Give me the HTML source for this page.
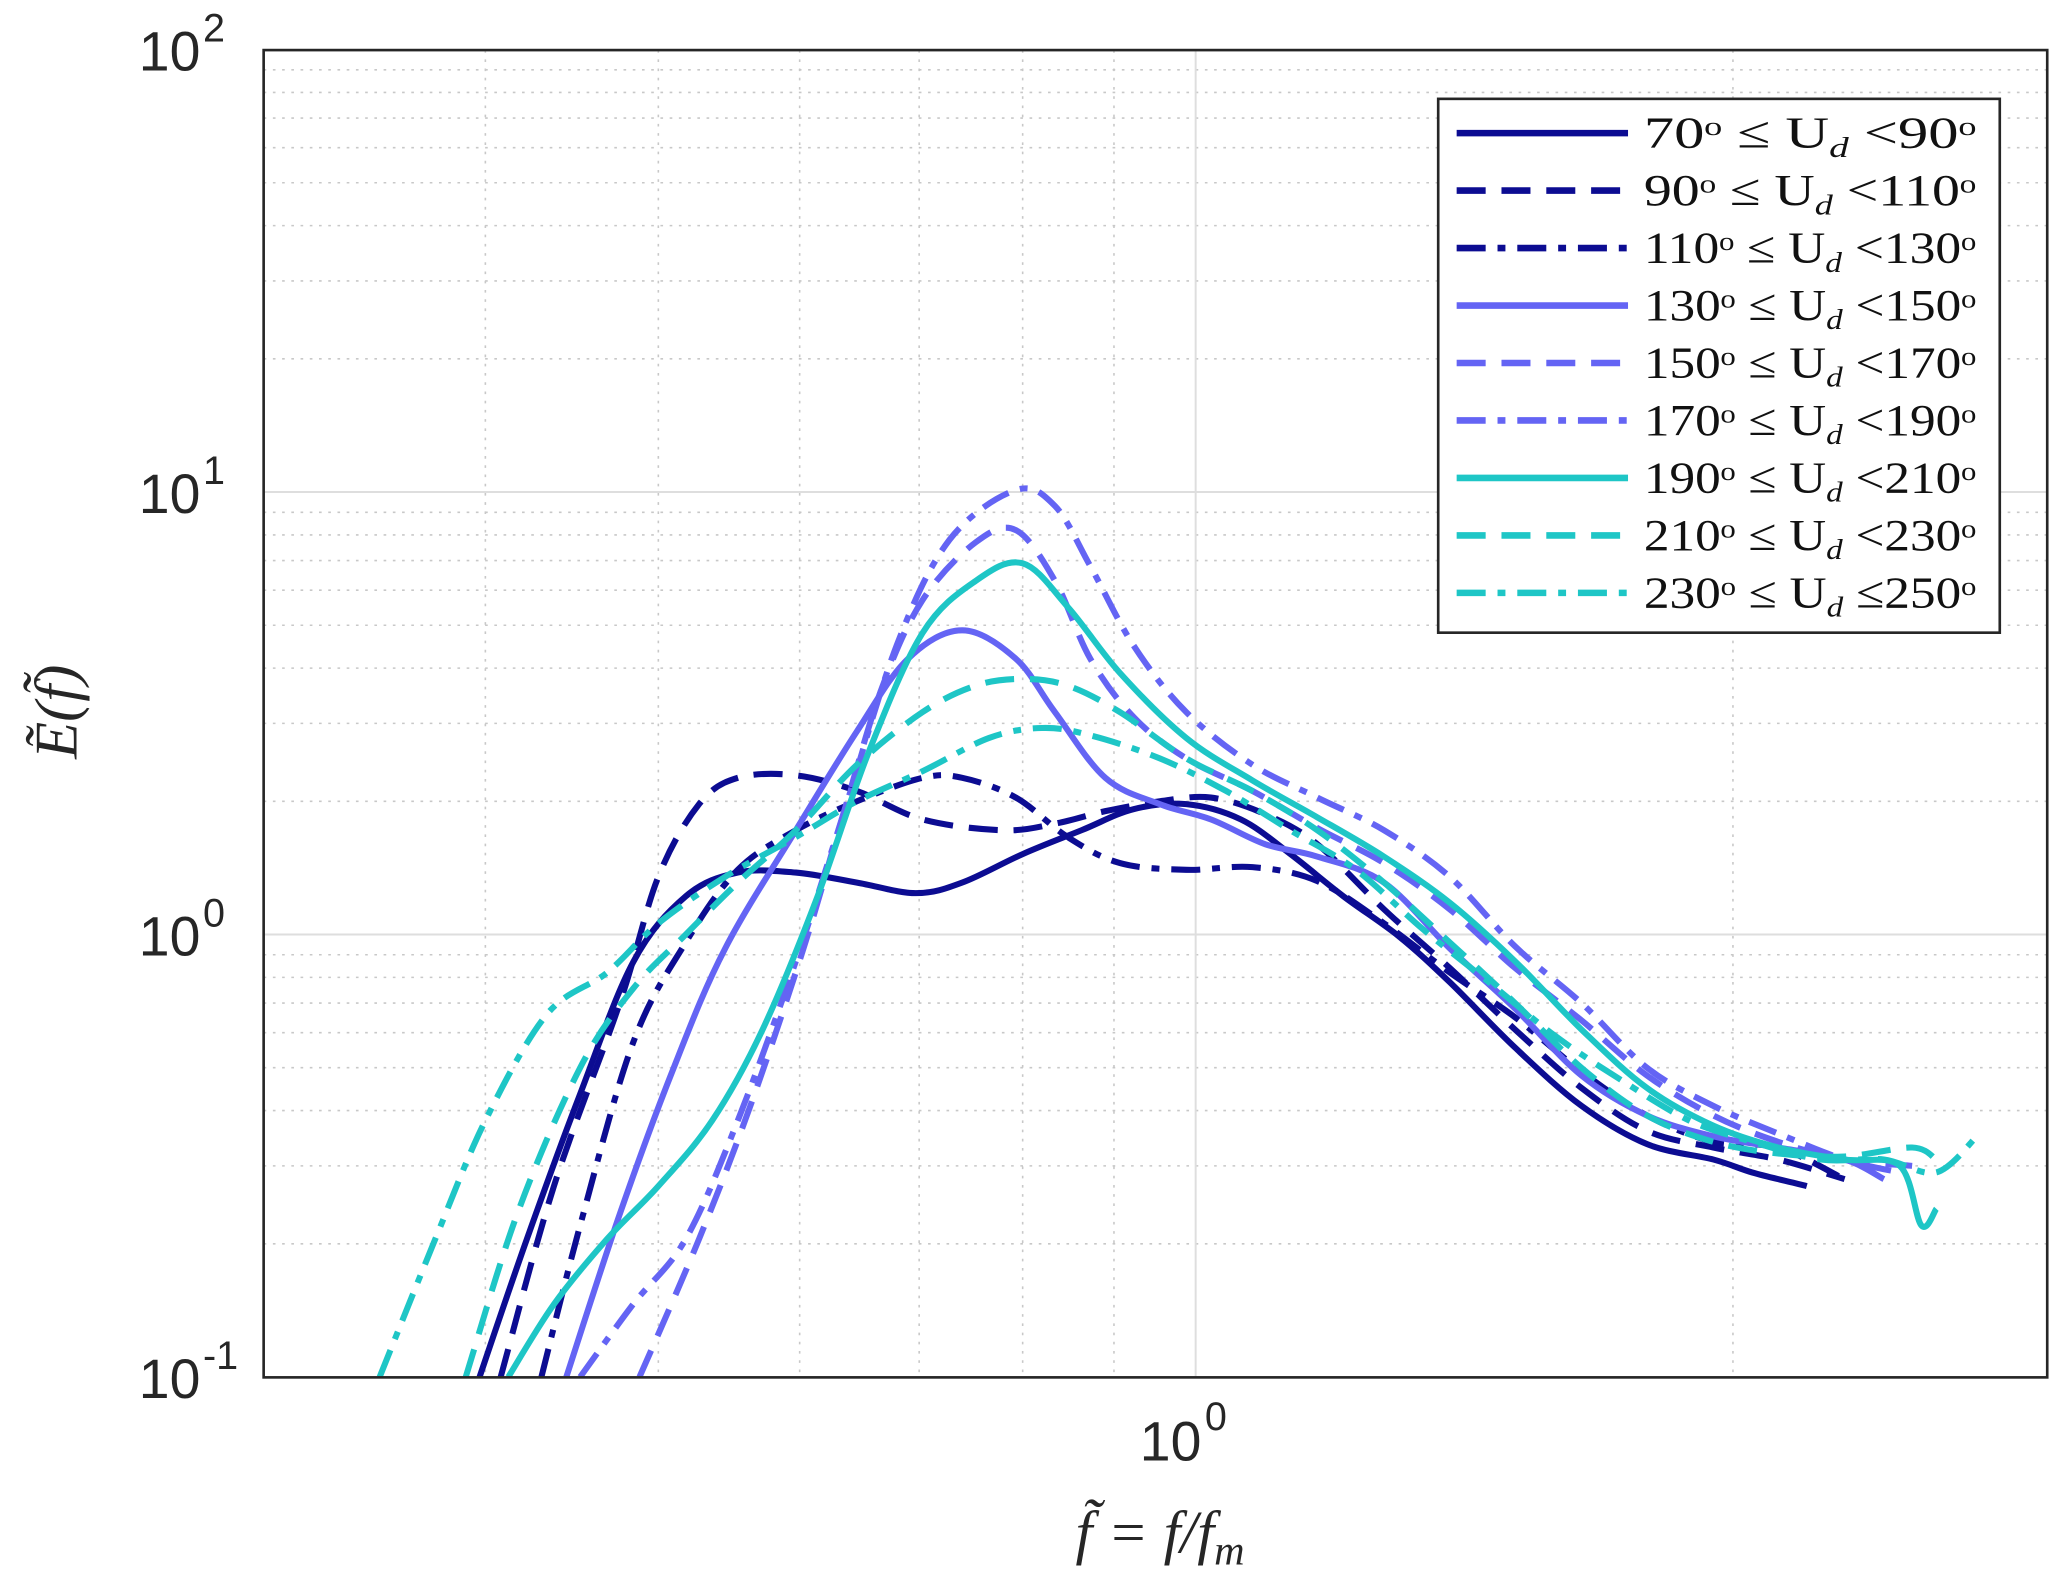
<!DOCTYPE html>
<html><head><meta charset="utf-8"><style>
html,body{margin:0;padding:0;background:#fff}
svg{display:block}
</style></head><body>
<svg id="chart" width="2067" height="1583" viewBox="0 0 1568 1201" preserveAspectRatio="none" xmlns="http://www.w3.org/2000/svg">
<rect x="0" y="0" width="1568" height="1201" fill="#fff"/>
<g id="grid"></g>
<g id="series"></g>
<rect x="200" y="38" width="1353" height="1007" fill="none" stroke="#262626" stroke-width="2"/>
<g id="ticks" font-family="Liberation Sans, sans-serif" fill="#262626"></g>
<text x="880" y="1178" text-anchor="middle" font-family="Liberation Serif, serif" font-size="46" font-style="italic" fill="#262626">f̃ = f/f<tspan font-size="32" dy="9">m</tspan></text>
<text transform="translate(58,540) rotate(-90)" text-anchor="middle" font-family="Liberation Serif, serif" font-size="46" font-style="italic" fill="#262626">Ẽ(f̃)</text>
<g id="legend">
<rect x="1091" y="75" width="426" height="405" fill="#fff" stroke="#262626" stroke-width="2"/>
</g>
</svg>
<script>
const labels=["70\u1d52 \u2264 U","90\u1d52 \u2264 U","110\u1d52 \u2264 U","130\u1d52 \u2264 U","150\u1d52 \u2264 U","170\u1d52 \u2264 U","190\u1d52 \u2264 U","210\u1d52 \u2264 U","230\u1d52 \u2264 U"];
const labelTails=["<90\u1d52","<110\u1d52","<130\u1d52","<150\u1d52","<170\u1d52","<190\u1d52","<210\u1d52","<230\u1d52","\u2264250\u1d52"];
const colors=["#0c0c92","#0c0c92","#0c0c92","#6464f4","#6464f4","#6464f4","#1ec6c6","#1ec6c6","#1ec6c6"];
const dashes=["","22,12","22,9,6,9","","22,12","22,9,6,9","","22,12","22,9,6,9"];
const f1=[0.397,0.422,0.452,0.484,0.518,0.554,0.597,0.646,0.697,0.74,0.8,0.863,0.923,0.988,1.06,1.13,1.21,1.3,1.388,1.51,1.645,1.79,1.95,2.05,2.16,2.2];
const e1=[0.1,0.205,0.436,0.866,1.22,1.38,1.38,1.31,1.24,1.31,1.52,1.72,1.92,1.97,1.82,1.52,1.22,0.99,0.78,0.555,0.41,0.336,0.31,0.29,0.275,0.27];
const f2=[0.408,0.437,0.476,0.5,0.527,0.554,0.597,0.646,0.703,0.78,0.834,0.89,0.955,1.02,1.094,1.17,1.275,1.388,1.51,1.645,1.79,1.95,2.12,2.31];
const e2=[0.1,0.27,0.705,1.35,1.97,2.26,2.29,2.11,1.82,1.72,1.78,1.9,2.0,2.04,1.87,1.6,1.14,0.84,0.61,0.45,0.36,0.33,0.31,0.28];
const f3=[0.43,0.452,0.484,0.518,0.554,0.597,0.646,0.703,0.74,0.793,0.848,0.907,0.988,1.076,1.17,1.275,1.388,1.51,1.645,1.79,1.95,2.12,2.31];
const e3=[0.1,0.22,0.57,0.96,1.4,1.72,2.0,2.26,2.26,2.04,1.66,1.45,1.4,1.42,1.32,1.06,0.82,0.65,0.49,0.39,0.34,0.33,0.28];
const f4=[0.444,0.476,0.51,0.545,0.597,0.646,0.69,0.74,0.793,0.834,0.89,0.955,1.02,1.094,1.17,1.275,1.388,1.51,1.645,1.79,1.95,2.12,2.31,2.43];
const e4=[0.1,0.235,0.5,0.93,1.72,2.88,4.2,4.87,4.2,3.18,2.26,1.97,1.82,1.6,1.5,1.31,0.93,0.68,0.48,0.39,0.35,0.33,0.31,0.28];
const f5=[0.488,0.527,0.563,0.603,0.634,0.667,0.703,0.753,0.793,0.834,0.873,0.923,0.988,1.076,1.17,1.275,1.388,1.51,1.645,1.79,1.95,2.12,2.31,2.52];
const e5=[0.1,0.205,0.41,0.93,1.84,3.6,5.7,7.7,8.2,6.3,4.2,3.1,2.5,2.11,1.74,1.45,1.14,0.84,0.64,0.48,0.39,0.34,0.31,0.3];
const f6=[0.452,0.484,0.518,0.554,0.597,0.634,0.68,0.728,0.793,0.834,0.873,0.923,0.988,1.076,1.17,1.275,1.388,1.51,1.645,1.79,1.95,2.12,2.31,2.48];
const e6=[0.1,0.146,0.205,0.38,0.87,1.84,4.5,7.8,10.1,9.3,6.8,4.5,3.18,2.42,2.04,1.72,1.35,0.94,0.7,0.5,0.41,0.355,0.31,0.29];
const f7=[0.412,0.437,0.468,0.5,0.536,0.572,0.614,0.656,0.703,0.753,0.8,0.848,0.907,0.988,1.076,1.17,1.275,1.388,1.51,1.645,1.79,1.95,2.12,2.31,2.48,2.55,2.6];
const e7=[0.1,0.146,0.205,0.27,0.38,0.61,1.22,2.59,4.8,6.3,6.9,5.5,3.9,2.78,2.23,1.84,1.5,1.18,0.87,0.61,0.45,0.37,0.33,0.31,0.3,0.22,0.24];
const f8=[0.39,0.417,0.452,0.484,0.518,0.554,0.597,0.646,0.703,0.753,0.8,0.848,0.907,0.988,1.076,1.17,1.275,1.388,1.51,1.645,1.79,1.95,2.12,2.31,2.52,2.6];
const e8=[0.1,0.235,0.5,0.755,1.0,1.31,1.72,2.42,3.18,3.65,3.78,3.65,3.18,2.5,2.11,1.72,1.31,0.96,0.7,0.5,0.39,0.34,0.32,0.315,0.33,0.31];
const f9=[0.349,0.375,0.4,0.433,0.468,0.5,0.545,0.597,0.646,0.703,0.766,0.82,0.873,0.955,1.04,1.13,1.23,1.34,1.46,1.59,1.73,1.89,2.05,2.24,2.43,2.6,2.74];
const e9=[0.1,0.205,0.38,0.66,0.82,1.06,1.35,1.66,2.0,2.34,2.78,2.93,2.82,2.5,2.11,1.72,1.4,1.03,0.78,0.59,0.47,0.38,0.34,0.31,0.31,0.29,0.35];
const fs=[f1,f2,f3,f4,f5,f6,f7,f8,f9], es=[e1,e2,e3,e4,e5,e6,e7,e8,e9];
const yTicks=[-1,0,1,2];

const NS="http://www.w3.org/2000/svg";
const X=v=>907+1354*Math.log10(v);
const Y=v=>709-335.7*Math.log10(v);
function mk(t,a,p){const e=document.createElementNS(NS,t);for(const k in a)e.setAttribute(k,a[k]);p.appendChild(e);return e;}
function smooth(pts){let d='M'+pts[0][0].toFixed(1)+','+pts[0][1].toFixed(1);
 for(let i=0;i<pts.length-1;i++){const p0=pts[i-1]||pts[i],p1=pts[i],p2=pts[i+1],p3=pts[i+2]||p2;
  const c1=[p1[0]+(p2[0]-p0[0])/6,p1[1]+(p2[1]-p0[1])/6],c2=[p2[0]-(p3[0]-p1[0])/6,p2[1]-(p3[1]-p1[1])/6];
  d+='C'+c1.map(v=>v.toFixed(1)).join(',')+' '+c2.map(v=>v.toFixed(1)).join(',')+' '+p2.map(v=>v.toFixed(1)).join(',');}
 return d;}
const grid=document.getElementById('grid');
for(let d=-1;d<2;d++)for(let m=1;m<10;m++){const v=m*Math.pow(10,d);const y=Y(v);if(y<38||y>1045)continue;
 const l=mk('line',{x1:200,x2:1553,y1:y,y2:y,stroke:m===1?'#dedede':'#c8c8c8','stroke-width':m===1?1.5:1.2,'stroke-dasharray':m===1?'':'2,5'},grid);
 }
[0.4,0.5,0.6,0.7,0.8,0.9,1,2].forEach(v=>{const x=X(v);
 const l=mk('line',{x1:x,x2:x,y1:38,y2:1045,stroke:v===1?'#dedede':'#c8c8c8','stroke-width':v===1?1.5:1.2,'stroke-dasharray':v===1?'':'2,5'},grid);
 });
const ticks=document.getElementById('ticks');
yTicks.forEach(p=>{const y=Y(Math.pow(10,p));
 const t=mk('text',{x:152,y:y+16,'font-size':42,'text-anchor':'end'},ticks);t.textContent='10';
 
 const s=mk('text',{x:154,y:y-6,'font-size':30},ticks);s.textContent=p;
 });
const xt=mk('text',{x:888,y:1108,'font-size':42,'text-anchor':'middle'},ticks);xt.textContent='10';

const xs=mk('text',{x:914,y:1085,'font-size':30},ticks);xs.textContent='0';


const sg=document.getElementById('series');
const cp=mk('clipPath',{id:'clip'},sg);mk('rect',{x:200,y:38,width:1353,height:1007},cp);
fs.forEach((f,i)=>{const d=smooth(f.map((v,j)=>[X(v),Y(es[i][j])]));
 const p=mk('path',{d:d,fill:'none',stroke:colors[i],'stroke-width':4.6,'stroke-dasharray':dashes[i],'stroke-linejoin':'round','clip-path':'url(#clip)'},sg);
 });

const lg=document.getElementById('legend');
labels.forEach((lab,i)=>{const y=101+i*43.6;
 const l=mk('line',{x1:1105,x2:1235,y1:y,y2:y,stroke:colors[i],'stroke-width':5,'stroke-dasharray':dashes[i]},lg);
 
 const t=mk('text',{x:1247,y:y+11,'font-size':34,'font-family':'Liberation Serif, serif',fill:'#111',textLength:252,lengthAdjust:'spacingAndGlyphs'},lg);
 
 t.textContent=lab;
 const sub=mk('tspan',{'font-size':22,dy:7,'font-style':'italic'},t);sub.textContent='d';
 const tail=mk('tspan',{dy:-7},t);tail.textContent=' '+labelTails[i];});
</script>
</body></html>
